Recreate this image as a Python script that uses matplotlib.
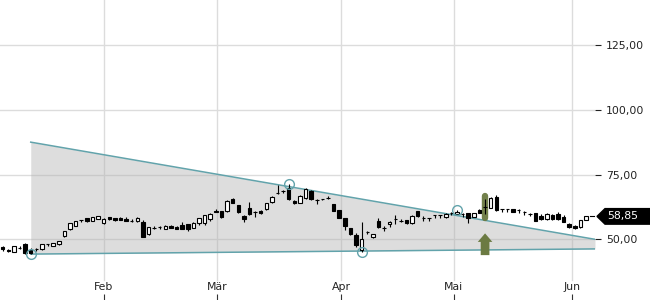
import matplotlib
matplotlib.use("Agg")
import matplotlib.pyplot as plt
from matplotlib.patches import FancyArrow, Polygon
from matplotlib.transforms import blended_transform_factory

# --- daily candles (one entry per trading day) ---
opens = [47.1, 46.0, 45.2, 46.8, 48.2, 45.7, 46.1, 46.1, 48.1, 47.6,
         48.1, 51.3, 54.1, 55.2, 57.4, 58.2, 57.1, 57.9, 56.2, 58.5,
         58.1, 58.3, 57.8, 57.2, 56.9, 56.7, 51.9, 54.5, 54.6, 54.1,
         55.2, 54.9, 55.5, 55.9, 54.5, 56.4, 56.3, 57.7, 61.1, 60.9,
         60.8, 65.5, 63.2, 59.0, 62.2, 60.5, 60.8, 61.6, 64.3, 67.7,
         68.6, 69.7, 64.9, 64.1, 65.8, 68.8, 65.2, 65.5, 66.0, 63.6,
         61.3, 58.1, 54.2, 51.7, 45.9, 52.7, 50.8, 57.1, 54.5, 55.8,
         57.7, 57.2, 57.4, 56.2, 60.9, 58.2, 58.1, 59.3, 59.3, 58.7,
         60.0, 59.8, 59.8, 60.0, 58.7, 61.2, 62.5, 62.2, 66.4, 61.6,
         61.6, 61.6, 61.3, 60.5, 59.6, 60.0, 59.1, 57.8, 59.4, 59.8,
         58.5, 55.9, 55.2, 54.9, 57.6]
highs = [47.3, 46.2, 47.6, 47.5, 48.4, 46.6, 46.7, 48.3, 48.3, 48.6,
         49.5, 53.3, 56.4, 57.1, 57.6, 58.4, 58.7, 59.1, 58.4, 58.7,
         58.3, 58.5, 58.5, 57.8, 58.5, 57.6, 54.8, 55.0, 55.1, 55.4,
         55.4, 55.1, 56.5, 56.1, 56.8, 58.3, 59.5, 60.0, 61.8, 61.1,
         65.0, 66.0, 63.4, 59.2, 64.5, 60.8, 61.3, 64.2, 66.6, 70.9,
         69.2, 71.5, 65.1, 67.0, 69.7, 69.0, 65.4, 65.6, 66.8, 63.8,
         61.5, 58.3, 54.4, 52.5, 56.5, 53.3, 52.1, 58.1, 55.0, 57.0,
         59.3, 57.8, 57.6, 59.3, 61.1, 58.9, 58.3, 59.5, 59.5, 60.0,
         60.7, 61.3, 60.0, 60.2, 60.2, 61.7, 63.9, 66.2, 67.0, 61.8,
         61.8, 61.8, 61.6, 61.1, 60.3, 60.2, 59.8, 60.0, 59.6, 60.4,
         59.3, 56.3, 55.4, 57.6, 59.0]
lows = [45.6, 45.1, 45.0, 46.2, 44.5, 44.3, 45.5, 45.9, 47.3, 47.4,
        47.9, 50.8, 53.6, 55.0, 56.8, 56.7, 56.9, 57.7, 56.0, 57.5,
        57.2, 57.4, 57.0, 56.6, 56.7, 50.8, 51.7, 54.0, 54.1, 53.9,
        54.2, 53.8, 53.9, 53.3, 54.3, 55.5, 55.5, 57.0, 60.4, 58.3,
        60.6, 63.9, 60.2, 56.6, 59.4, 58.5, 59.8, 61.4, 64.1, 67.5,
        67.9, 65.3, 63.7, 63.9, 65.6, 65.3, 63.6, 65.3, 65.6, 60.8,
        58.1, 53.6, 51.7, 47.2, 45.1, 52.2, 50.6, 54.4, 53.1, 54.7,
        55.8, 56.7, 56.0, 56.0, 58.8, 57.2, 57.1, 58.4, 58.4, 58.2,
        59.4, 59.6, 58.6, 56.2, 58.5, 60.1, 61.4, 62.0, 61.1, 60.6,
        60.6, 60.4, 60.0, 59.5, 59.0, 57.0, 57.5, 57.6, 57.6, 57.6,
        56.6, 54.2, 53.9, 54.4, 57.4]
closes = [46.2, 45.3, 47.4, 46.8, 44.7, 44.7, 46.1, 48.1, 48.1, 48.4,
          49.3, 53.1, 56.2, 56.9, 57.4, 56.9, 58.5, 58.9, 57.7, 57.7,
          57.4, 57.6, 57.1, 57.2, 58.2, 51.0, 54.6, 54.5, 54.6, 55.2,
          54.4, 54.0, 54.1, 53.9, 56.3, 58.1, 59.3, 59.8, 60.7, 58.5,
          64.8, 64.1, 60.4, 57.7, 59.6, 60.5, 60.0, 64.0, 66.4, 67.7,
          68.6, 65.5, 63.9, 66.8, 69.3, 65.5, 65.2, 65.5, 66.0, 61.0,
          58.3, 55.2, 51.9, 47.8, 50.1, 52.7, 51.9, 54.6, 54.5, 56.8,
          57.7, 57.2, 56.2, 59.1, 59.0, 58.2, 58.1, 59.3, 59.3, 59.8,
          60.0, 60.6, 59.8, 58.1, 60.0, 60.3, 62.5, 65.8, 61.3, 61.6,
          61.6, 60.6, 61.3, 60.5, 59.6, 57.2, 57.7, 59.8, 57.8, 57.8,
          56.8, 54.6, 54.2, 57.4, 58.85]

month_labels = ["Feb", "Mär", "Apr", "Mai", "Jun"]
month_pos = [18.06, 38.2, 60.3, 80.4, 101.5]
ytick_vals = [50, 75, 100, 125]
ytick_labels = ["50,00", "75,00", "100,00", "125,00"]

# triangle (trend lines) and pivot points
trend_x = [5, 105.6]
upper_y = [87.5, 50.0]
lower_y = [44.3, 46.3]
pivot_x = [5, 51, 64, 81]
pivot_y = [44.3, 71.5, 45.1, 61.3]

# breakout signal
signal_idx = 86
signal_bar = [58.3, 66.9]
arrow_base, arrow_top = 43.9, 52.3

last_price = closes[-1]

teal = "#62a3ab"
olive = "#6b7a42"
grid_c = "#dcdcdc"

fig = plt.figure(figsize=(6.5, 3), dpi=100)
ax = fig.add_axes([0, 0, 595 / 650, 1])
ax.set_xlim(-0.48, 105.6)
ax.set_ylim(26.58, 142.36)

for v in ytick_vals:
    ax.axhline(v, color=grid_c, lw=1, zorder=0)
for p in month_pos:
    ax.axvline(p, ymin=0.067, ymax=1, color=grid_c, lw=1, zorder=0)

# triangle
ax.fill_between(trend_x, lower_y, upper_y, color="#b0b0b0", alpha=0.42, lw=0, zorder=1)
ax.plot(trend_x, upper_y, color=teal, lw=1.1, zorder=2)
ax.plot(trend_x, lower_y, color=teal, lw=1.1, zorder=2)

# candles
xs = list(range(len(opens)))
ax.vlines(xs, lows, highs, color="black", lw=0.8, zorder=3)
for i in xs:
    o, c = opens[i], closes[i]
    up = c >= o
    ax.bar(i, abs(c - o), bottom=min(o, c), width=0.62,
           color="white" if up else "black", edgecolor="black", lw=0.8, zorder=4)

ax.plot(pivot_x, pivot_y, "o", ms=7, mfc="none", mec=teal, mew=1, zorder=5)

# signal bar + arrow
ax.plot([signal_idx, signal_idx], signal_bar, color=olive, lw=4.6,
        solid_capstyle="round", alpha=0.95, zorder=3.5)
ax.vlines([signal_idx], signal_bar[0] + 1.5, signal_bar[1] - 1.5, color="black", lw=0.8, zorder=3.6)
ax.bar(signal_idx, 0.3, bottom=closes[signal_idx] - 0.15, width=0.62, color="black", zorder=4)
ax.add_patch(FancyArrow(signal_idx, arrow_base, 0, arrow_top - arrow_base, width=1.55,
                        head_width=2.6, head_length=3.3, length_includes_head=True,
                        color=olive, lw=0, zorder=5))

# axes styling
for s in ax.spines.values():
    s.set_visible(False)
ax.set_xticks(month_pos)
ax.set_xticklabels([])
ax.tick_params(axis="x", direction="in", length=4, width=0.8, color="#333333")
for p, lab in zip(month_pos, month_labels):
    ax.text(p, 0.043, lab, transform=blended_transform_factory(ax.transData, ax.transAxes),
            ha="center", va="center", fontsize=7.8, color="#222222")

ax.yaxis.tick_right()
ax.set_yticks(ytick_vals)
ax.set_yticklabels(ytick_labels)
ax.tick_params(axis="y", direction="out", length=4, width=0.8, pad=4, labelsize=7.8,
               color="#222222", labelcolor="#222222")

# last price tag
tr = blended_transform_factory(ax.transAxes, ax.transData)
h = 3.0
tag = Polygon([(597 / 595, last_price), (605 / 595, last_price + h), (660 / 595, last_price + h),
               (660 / 595, last_price - h), (605 / 595, last_price - h)],
              closed=True, transform=tr, color="black", clip_on=False, zorder=6)
ax.add_patch(tag)
ax.text(607 / 595, last_price, f"{last_price:.2f}".replace(".", ","), transform=tr,
        ha="left", va="center", fontsize=7.8, color="white", clip_on=False, zorder=7)
ax.plot([590 / 595, 594 / 595], [last_price, last_price], transform=tr, color="black",
        lw=0.8, clip_on=False)

fig.savefig("out.png", dpi=100)
